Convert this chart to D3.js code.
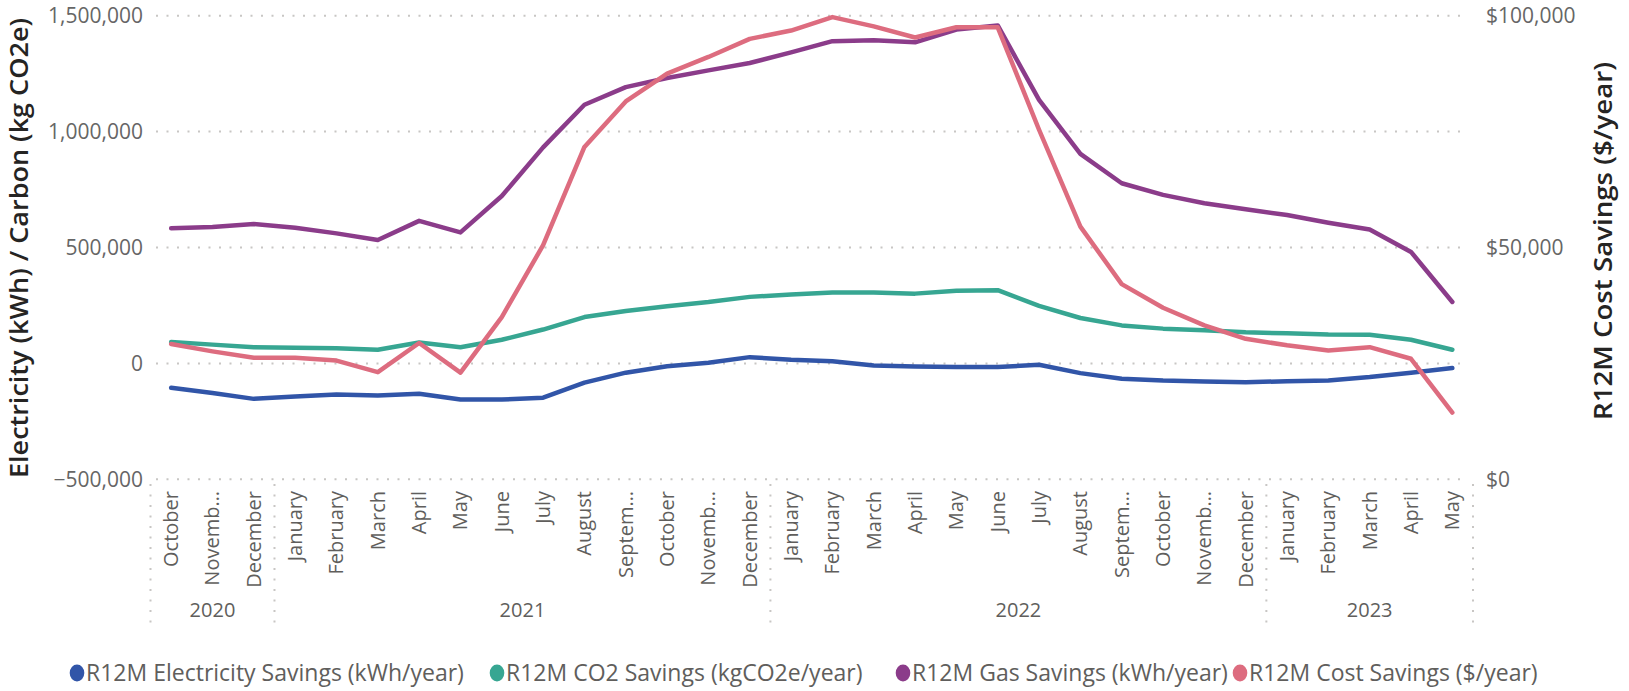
<!DOCTYPE html>
<html lang="en">
<head>
<meta charset="utf-8" />
<title>R12M Savings</title>
<script src="https://cdn.jsdelivr.net/npm/d3@7"></script>
<style>
  body { margin: 0; background: #fff; }
  svg { display: block; font-family: 'Open Sans', sans-serif; }
</style>
</head>
<body>
<div id="chart"></div>
<script>
// categories
const months = ['2020-10', '2020-11', '2020-12',
  '2021-01', '2021-02', '2021-03', '2021-04', '2021-05', '2021-06', '2021-07', '2021-08', '2021-09', '2021-10', '2021-11', '2021-12',
  '2022-01', '2022-02', '2022-03', '2022-04', '2022-05', '2022-06', '2022-07', '2022-08', '2022-09', '2022-10', '2022-11', '2022-12',
  '2023-01', '2023-02', '2023-03', '2023-04', '2023-05']
const monthLabels = ['October', 'Novemb…', 'December',
  'January', 'February', 'March', 'April', 'May', 'June', 'July', 'August', 'Septem…', 'October', 'Novemb…', 'December',
  'January', 'February', 'March', 'April', 'May', 'June', 'July', 'August', 'Septem…', 'October', 'Novemb…', 'December',
  'January', 'February', 'March', 'April', 'May']
const years = ['2020', '2021', '2022', '2023']

// series (left axis: kWh / kg CO2e, right axis: $)
const electricity = [-105000, -128000, -153000, -143000, -134000, -138000, -131000, -156000, -156000, -148000, -83000, -40000,
  -12000, 3000, 27000, 16000, 9000, -9000, -13000, -16000, -16000, -6000, -42000, -66000, -74000, -78000, -81000, -77000,
  -74000, -59000, -40000, -20000]
const co2 = [92000, 81000, 70000, 68000, 65000, 59000, 90000, 70000, 102000, 146000, 200000, 226000, 247000, 265000, 287000,
  297000, 306000, 306000, 301000, 313000, 316000, 248000, 196000, 164000, 150000, 143000, 134000, 130000, 125000, 124000,
  102000, 59000]
const gas = [583000, 588000, 601000, 585000, 561000, 532000, 615000, 565000, 722000, 932000, 1116000, 1192000, 1231000,
  1264000, 1296000, 1342000, 1390000, 1394000, 1385000, 1440000, 1458000, 1137000, 904000, 777000, 727000, 691000, 665000,
  640000, 607000, 578000, 481000, 265000]
const cost = [29200, 27600, 26200, 26200, 25600, 23100, 29400, 23000, 35000, 50500, 71700, 81500, 87500, 91100, 95000,
  96800, 99700, 97700, 95300, 97500, 97500, 75400, 54500, 42100, 37000, 33200, 30300, 28900, 27800, 28500, 26000, 14400]

// tick values
const leftTicks = [-500000, 0, 500000, 1000000, 1500000]
const rightTicks = [0, 50000, 100000]

const seriesNames = ['R12M Electricity Savings (kWh/year)', 'R12M CO2 Savings (kgCO2e/year)',
  'R12M Gas Savings (kWh/year)', 'R12M Cost Savings ($/year)']
const colors = ['#3155A8', '#37A692', '#8B3C8A', '#DD6C7F']

const width = 1629, height = 691

const svg = d3.select('#chart').append('svg').attr('width', width).attr('height', height)

const x = d3.scaleBand().domain(months).range([150.5, 1473]).padding(0)
const cx = (m) => x(m) + x.bandwidth() / 2
const yL = d3.scaleLinear().domain([-500000, 1500000]).range([479.3, 15.7])
const yR = d3.scaleLinear().domain([0, 100000]).range([479.3, 15.7])

// gridlines
svg.append('g')
  .selectAll('line')
  .data(leftTicks)
  .join('line')
  .attr('x1', 156)
  .attr('x2', 1467)
  .attr('y1', (d) => yL(d))
  .attr('y2', (d) => yL(d))
  .attr('stroke', '#c8c6c4')
  .attr('stroke-width', 2)
  .attr('stroke-dasharray', '2,8.5')

// left axis
const leftAxis = svg.append('g')
  .attr('transform', 'translate(143,0)')
  .call(d3.axisLeft(yL).tickValues(leftTicks).tickFormat(d3.format(',')).tickSize(0).tickPadding(0))
leftAxis.select('.domain').remove()
leftAxis.selectAll('text').attr('font-size', 21).attr('fill', '#666').attr('font-family', "'Open Sans', sans-serif")

// right axis
const rightAxis = svg.append('g')
  .attr('transform', 'translate(1486,0)')
  .call(d3.axisRight(yR).tickValues(rightTicks).tickFormat(d3.format('$,')).tickSize(0).tickPadding(0))
rightAxis.select('.domain').remove()
rightAxis.selectAll('text').attr('font-size', 21).attr('fill', '#666').attr('font-family', "'Open Sans', sans-serif")

// x axis month labels
const xAxis = svg.append('g')
  .attr('transform', 'translate(0,491)')
  .call(d3.axisBottom(x).tickFormat((d, i) => monthLabels[i]).tickSize(0).tickPadding(0))
xAxis.select('.domain').remove()
xAxis.selectAll('text')
  .attr('font-size', 20)
  .attr('fill', '#605e5c')
  .attr('font-family', "'Open Sans', sans-serif")
  .attr('transform', 'rotate(-90)')
  .attr('text-anchor', 'end')
  .attr('x', 0)
  .attr('y', 0)
  .attr('dy', '0.35em')

// year groups
const yearGroups = years.map((yr) => {
  const ms = months.filter((m) => m.startsWith(yr))
  return { year: yr, start: x(ms[0]), end: x(ms[ms.length - 1]) + x.bandwidth() }
})
const bounds = [yearGroups[0].start].concat(yearGroups.map((g) => g.end))
svg.append('g')
  .selectAll('line')
  .data(bounds)
  .join('line')
  .attr('x1', (d) => d)
  .attr('x2', (d) => d)
  .attr('y1', 484)
  .attr('y2', 630)
  .attr('stroke', '#c8c6c4')
  .attr('stroke-width', 2)
  .attr('stroke-dasharray', '2,8.5')

svg.append('g')
  .selectAll('text')
  .data(yearGroups)
  .join('text')
  .attr('x', (d) => (d.start + d.end) / 2)
  .attr('y', 610)
  .attr('dy', '0.35em')
  .attr('text-anchor', 'middle')
  .attr('font-size', 20)
  .attr('fill', '#605e5c')
  .text((d) => d.year)

// axis titles
svg.append('text')
  .attr('transform', 'translate(27.5,248) rotate(-90)')
  .attr('text-anchor', 'middle')
  .attr('font-size', 26)
  .attr('font-weight', 600)
  .attr('fill', '#252423')
  .attr('textLength', 460)
  .attr('lengthAdjust', 'spacingAndGlyphs')
  .text('Electricity (kWh) / Carbon (kg CO2e)')

svg.append('text')
  .attr('transform', 'translate(1612,241) rotate(-90)')
  .attr('text-anchor', 'middle')
  .attr('font-size', 26)
  .attr('font-weight', 600)
  .attr('fill', '#252423')
  .attr('textLength', 358)
  .attr('lengthAdjust', 'spacingAndGlyphs')
  .text('R12M Cost Savings ($/year)')

// lines
const series = [
  { values: electricity, y: yL },
  { values: co2, y: yL },
  { values: gas, y: yL },
  { values: cost, y: yR }
]
series.forEach((s, k) => {
  const line = d3.line()
    .x((d, i) => cx(months[i]))
    .y((d) => s.y(d))
  svg.append('path')
    .datum(s.values)
    .attr('d', line)
    .attr('fill', 'none')
    .attr('stroke', colors[k])
    .attr('stroke-width', 4.5)
    .attr('stroke-linejoin', 'round')
    .attr('stroke-linecap', 'round')
})

// legend
const legendX = [77, 497, 903, 1240]
const legend = svg.append('g')
seriesNames.forEach((name, k) => {
  legend.append('ellipse')
    .attr('cx', legendX[k])
    .attr('cy', 673)
    .attr('rx', 7.3)
    .attr('ry', 8.5)
    .attr('fill', colors[k])
  legend.append('text')
    .attr('x', legendX[k] + 9)
    .attr('y', 673)
    .attr('dy', '0.35em')
    .attr('font-size', 23)
    .attr('fill', '#605e5c')
    .text(name)
})
</script>
</body>
</html>
